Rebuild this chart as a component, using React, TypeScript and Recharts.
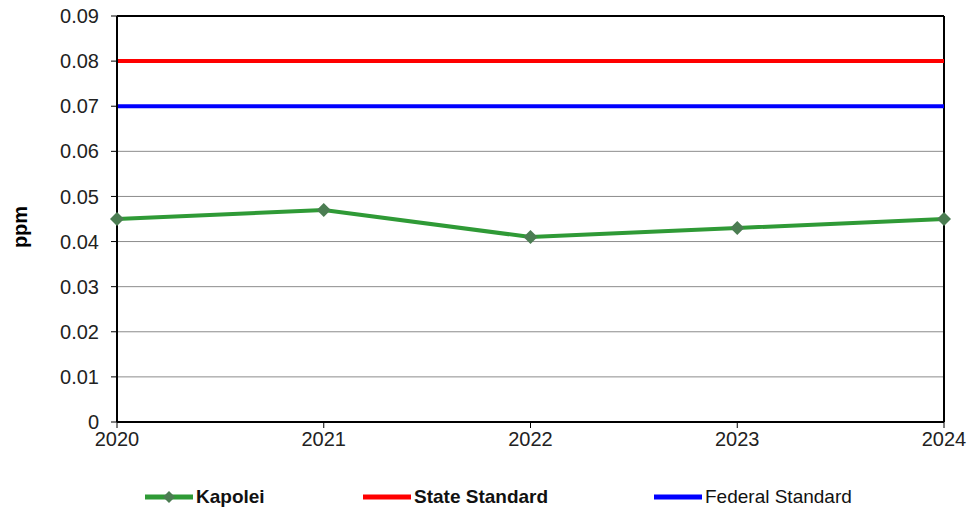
import { LineChart, Line, XAxis, YAxis, CartesianGrid, ReferenceLine } from 'recharts'

const years = ['2020', '2021', '2022', '2023', '2024']
const kapolei = [0.045, 0.047, 0.041, 0.043, 0.045]
const stateStandard = [0.08, 0.08, 0.08, 0.08, 0.08]
const federalStandard = [0.07, 0.07, 0.07, 0.07, 0.07]
const yTicks = [0, 0.01, 0.02, 0.03, 0.04, 0.05, 0.06, 0.07, 0.08, 0.09]

const data = years.map((year, i) => ({
    year,
    kapolei: kapolei[i],
    state: stateStandard[i],
    federal: federalStandard[i],
}))

const FONT = '"Liberation Sans", Arial, sans-serif'
const GREEN = '#2f9a36'
const MARKER = '#4b7d52'

const Diamond = (props: any) => {
    const { cx, cy, index } = props
    if (cx == null || cy == null) return null
    const r = 7
    return (
        <polygon
            key={`d-${index}`}
            points={`${cx},${cy - r} ${cx + r},${cy} ${cx},${cy + r} ${cx - r},${cy}`}
            fill={MARKER}
        />
    )
}

// rotated axis title, centred a little below the middle of the axis
const PpmLabel = (props: any) => {
    const { viewBox } = props
    const x = viewBox.x + 20
    const y = viewBox.y + viewBox.height / 2 + 8
    return (
        <text
            x={x}
            y={y}
            transform={`rotate(-90, ${x}, ${y})`}
            textAnchor="middle"
            dominantBaseline="central"
            style={{ fontSize: 20, fontWeight: 'bold', fill: '#000', fontFamily: FONT }}
        >
            ppm
        </text>
    )
}

const legendItems = [
    { label: 'Kapolei', color: GREEN, bold: true, marker: true, left: 145 },
    { label: 'State Standard', color: '#ff0000', bold: true, marker: false, left: 363 },
    { label: 'Federal Standard', color: '#0000ff', bold: false, marker: false, left: 654 },
]

export default function App() {
    return (
        <div style={{ position: 'absolute', left: 0, top: 0, width: 972, height: 514, background: '#fff', fontFamily: FONT }}>
            <LineChart width={972} height={514} data={data} margin={{ top: 16, right: 28, bottom: 60, left: 0 }}>
                <CartesianGrid vertical={false} stroke="#8c8c8c" strokeWidth={1} />
                <XAxis
                    dataKey="year"
                    height={32}
                    tickSize={6}
                    tickMargin={4}
                    axisLine={{ stroke: '#000', strokeWidth: 2 }}
                    tickLine={{ stroke: '#000' }}
                    tick={{ fill: '#222', fontSize: 20, fontFamily: FONT }}
                />
                <YAxis
                    width={117}
                    domain={[0, 0.09]}
                    ticks={yTicks}
                    interval={0}
                    tickSize={6}
                    tickMargin={12}
                    axisLine={{ stroke: '#000', strokeWidth: 2 }}
                    tickLine={{ stroke: '#000' }}
                    tick={{ fill: '#222', fontSize: 20, fontFamily: FONT }}
                    label={<PpmLabel />}
                />
                <ReferenceLine y={0.09} stroke="#000" strokeWidth={2} />
                <ReferenceLine x="2024" stroke="#000" strokeWidth={2} />
                <Line dataKey="state" stroke="#ff0000" strokeWidth={4} dot={false} isAnimationActive={false} />
                <Line dataKey="federal" stroke="#0000ff" strokeWidth={4} dot={false} isAnimationActive={false} />
                <Line dataKey="kapolei" stroke={GREEN} strokeWidth={4} dot={Diamond} activeDot={false} isAnimationActive={false} />
            </LineChart>
            {legendItems.map((item) => (
                <div
                    key={item.label}
                    style={{ position: 'absolute', left: item.left, top: 485, height: 24, display: 'flex', alignItems: 'center' }}
                >
                    <svg width={48} height={16}>
                        <line x1={0} y1={8} x2={48} y2={8} stroke={item.color} strokeWidth={5} />
                        {item.marker && <polygon points="24,2 30,8 24,14 18,8" fill={MARKER} />}
                    </svg>
                    <span style={{ marginLeft: 3, fontSize: 19, fontWeight: item.bold ? 'bold' : 'normal', color: '#111' }}>
                        {item.label}
                    </span>
                </div>
            ))}
        </div>
    )
}
